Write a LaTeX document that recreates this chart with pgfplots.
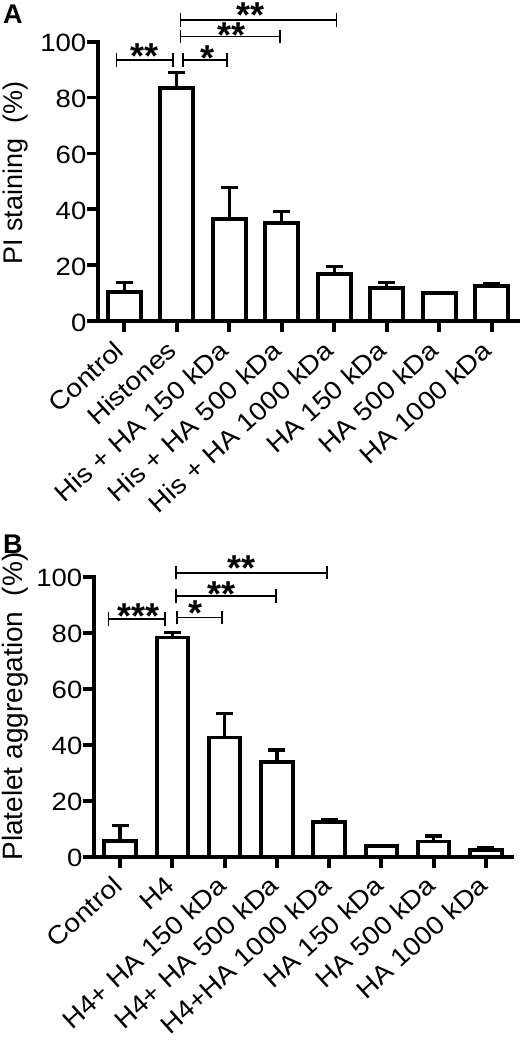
\documentclass[border=0pt]{standalone}
\usepackage{fontspec}
\setmainfont{Liberation Sans}
\newfontfamily\tickfont[FakeStretch=1.1]{Liberation Sans}
\usepackage{pgfplots}
\usepackage{pgfplotstable}
\pgfplotsset{compat=1.18}
\newcommand{\fs}{\tickfont\fontsize{25}{30}\selectfont}
\newcommand{\xfs}{\tickfont\fontsize{25.5}{30}\selectfont}
\newcommand{\starfs}{\bfseries\fontsize{36}{40}\selectfont}
\pgfplotstableread{
x y e
0 10.5 3.2
1 83.5 5.4
2 36.5 11.4
3 35.0 4.1
4 16.7 2.8
5 11.8 1.9
6 9.9 0.4
7 12.6 0.9
}\dataA
\pgfplotstableread{
x y e
0 5.7 5.5
1 78.3 1.7
2 42.6 8.6
3 33.7 4.4
4 12.4 0.7
5 3.8 0.3
6 5.4 2.0
7 2.4 0.8
}\dataB
\pgfplotsset{
  mybars/.style={
    scale only axis,
    anchor=south west,
    xmin=-0.5, xmax=7.5, ymin=0, ymax=100,
    axis x line=bottom, axis y line=left,
    every outer x axis line/.append style={-},
    every outer y axis line/.append style={-},
    axis line style={-, line width=4pt, line cap=rect},
    clip=false,
    ytick={0,20,40,60,80,100},
    xtick={0,...,7},
    tick align=outside,
    major tick length=11pt,
    tick style={black, line width=3.8pt},
    yticklabel style={font=\fs, inner sep=0.5pt, yshift=-1.5pt},
    /pgf/number format/assume math mode=true,
  },
  mybar/.style={ybar, draw=black, fill=white, line width=3.8pt,
    error bars/.cd, y dir=plus, y explicit,
    error bar style={line width=3.4pt, black},
    error mark options={rotate=90, line width=3.4pt, mark size=8.5pt, black}},
}
% bracket: x1, x2, y, star x, star text, star offset
\newcommand{\brk}[6]{%
  \draw[line width=1.5pt] (axis cs:#1,#3) -- (axis cs:#2,#3);
  \draw[line width=1.5pt] ([yshift=-6.7pt]axis cs:#1,#3) -- ([yshift=6.7pt]axis cs:#1,#3);
  \draw[line width=1.5pt] ([yshift=-6.7pt]axis cs:#2,#3) -- ([yshift=6.7pt]axis cs:#2,#3);
  \node[anchor=north, inner sep=0pt, font=\starfs] at ([yshift=#6]axis cs:#4,#3) {#5};
}
\begin{document}
\begin{tikzpicture}
\begin{axis}[mybars, width=420pt, height=279.3pt, at={(98pt,-321pt)},
  xticklabel style={font=\xfs, xshift=-4.8pt, yshift=-14.1pt, rotate=42.3, anchor=east, inner sep=0pt},
  xticklabels={Control, Histones, His + HA 150 kDa, His + HA 500 kDa, His + HA 1000 kDa, HA 150 kDa, HA 500 kDa, HA 1000 kDa}]
\addplot[bar width=33pt, mybar] table[x=x, y=y, y error=e] {\dataA};
\brk{-0.15}{0.93}{93.4}{0.38}{**}{17pt}
\brk{1.12}{1.96}{93.4}{1.58}{*}{15pt}
\brk{1.07}{2.97}{101.8}{2.04}{**}{13.7pt}
\brk{1.07}{4.04}{107.8}{2.41}{**}{17.3pt}
\end{axis}
\begin{axis}[mybars, width=418pt, height=280pt, at={(94pt,-856.7pt)},
  xticklabel style={font=\xfs, xshift=-2.3pt, yshift=-13.4pt, rotate=42.3, anchor=east, inner sep=0pt},
  xticklabels={Control, H4, H4+ HA 150 kDa, H4+ HA 500 kDa, H4+HA 1000 kDa, HA 150 kDa, HA 500 kDa, HA 1000 kDa}]
\addplot[bar width=31.5pt, mybar] table[x=x, y=y, y error=e] {\dataB};
\brk{-0.22}{0.855}{84.9}{0.36}{***}{15pt}
\brk{1.09}{1.95}{85.4}{1.45}{*}{16.7pt}
\brk{1.07}{2.98}{93.1}{1.94}{**}{14pt}
\brk{1.066}{3.96}{101.4}{2.33}{**}{17.7pt}
\end{axis}
\node[rotate=90, font=\fontsize{27}{30}\selectfont] at (15.5pt,-173pt) {PI staining\ \ (\%)};
\node[rotate=90, font=\fontsize{28}{30}\selectfont] at (15.5pt,-706.5pt) {Platelet aggregation\ \ (\%)};
\node[anchor=north west, inner sep=0pt, font=\bfseries\fontsize{27}{30}\selectfont] at (3pt,-5pt) {A};
\node[anchor=north west, inner sep=0pt, font=\bfseries\fontsize{27}{30}\selectfont] at (3pt,-535pt) {B};
\pgfresetboundingbox
\useasboundingbox (0,0) rectangle (520pt,-1040pt);
\end{tikzpicture}
\end{document}
